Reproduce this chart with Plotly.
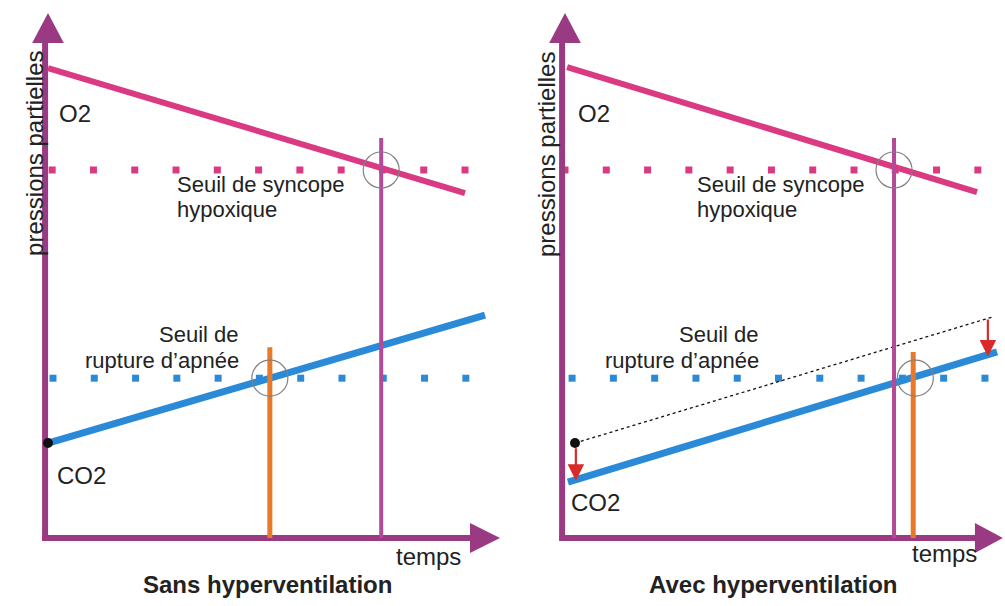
import plotly.graph_objects as go

# ---- data (abstract units: time, partial pressure) ----
panels = ["Sans hyperventilation", "Avec hyperventilation"]
o2_t = [[0.0, 10.0], [0.05, 9.88]]
o2_p = [[10.0, 7.34], [10.02, 7.36]]
o2_threshold = 7.83
co2_threshold = 3.40
co2_t = [[0.0, 10.48], [0.07, 10.36]]
co2_p = [[2.02, 4.74], [1.19, 3.96]]
co2_ref_t = [0.24, 10.24]          # CO2 without hyperventilation (dotted, right panel)
co2_ref_p = [2.02, 4.70]
syncope_t = [7.99, 7.89]
rupture_t = [5.32, 8.35]
o2_dots_t = [[0.1 + 0.99 * k for k in range(11)], [0.0 + 0.99 * k for k in range(11)]]
co2_dots_t = [[0.12 + 0.99 * k for k in range(11)], [0.17 + 0.99 * k for k in range(11)]]

AXIS = "#9a3a82"
PINK = "#d93a82"
VIOLET = "#b34a98"
BLUE = "#2b8ad8"
ORANGE = "#e8792a"
RED = "#d82a2a"
FONT = "Liberation Sans, Arial, sans-serif"

fig = go.Figure()
xr = [[-1.151, 10.887], [-1.511, 10.551]]
yr = [-1.447, 11.447]
xend = [10.12, 9.83]
xtip = [10.84, 10.5]

# text positions per panel (time, pressure)
txt = {
    "O2": [(0.22, 9.04), (0.26, 9.04)],
    "s1": [(3.05, 7.53), (3.12, 7.53)],
    "s2": [(3.05, 6.98), (3.12, 6.98)],
    "r1": [(4.63, 4.32), (4.70, 4.32)],
    "r2": [(4.63, 3.77), (4.70, 3.77)],
    "CO2": [(0.17, 1.32), (0.10, 0.745)],
    "temps": [(9.12, -0.40), (9.11, -0.34)],
    "title": [(5.26, -0.98), (5.01, -0.98)],
    "ylab": [(-0.34, 8.19), (-0.43, 8.15)],
}

for i in range(2):
    xa = "x" if i == 0 else "x2"
    ya = "y" if i == 0 else "y2"
    def add(**kw):
        fig.add_trace(go.Scatter(xaxis=xa, yaxis=ya, showlegend=False, hoverinfo="skip", **kw))
    # threshold dotted lines
    add(x=o2_dots_t[i], y=[o2_threshold] * 11, mode="markers",
        marker=dict(symbol="square", size=7, color=PINK))
    add(x=co2_dots_t[i], y=[co2_threshold] * 11, mode="markers",
        marker=dict(symbol="square", size=7, color=BLUE))
    # axes
    add(x=[-0.07, -0.07], y=[-0.06, 10.6], mode="lines", line=dict(color=AXIS, width=6))
    add(x=[-0.38, 0.0, 0.38, -0.38], y=[10.53, 11.17, 10.53, 10.53], mode="lines",
        fill="toself", fillcolor=AXIS, line=dict(color=AXIS, width=0))
    add(x=[-0.14, xend[i] + 0.05], y=[0, 0], mode="lines", line=dict(color=AXIS, width=6))
    add(x=[xend[i], xtip[i], xend[i], xend[i]], y=[0.32, 0, -0.32, 0.32], mode="lines",
        fill="toself", fillcolor=AXIS, line=dict(color=AXIS, width=0))
    # O2
    add(x=o2_t[i], y=o2_p[i], mode="lines", line=dict(color=PINK, width=6))
    # CO2 reference (right panel)
    if i == 1:
        add(x=co2_ref_t, y=co2_ref_p, mode="lines", line=dict(color="#111111", width=1.3, dash="dot"))
    # CO2
    add(x=co2_t[i], y=co2_p[i], mode="lines", line=dict(color=BLUE, width=7))
    # syncope vertical
    add(x=[syncope_t[i]] * 2, y=[0, 8.51], mode="lines", line=dict(color=VIOLET, width=4))
    # rupture vertical
    add(x=[rupture_t[i]] * 2, y=[0, 4.06 if i == 0 else 3.96], mode="lines",
        line=dict(color=ORANGE, width=5))
    # circles at intersections
    add(x=[syncope_t[i], rupture_t[i] + (0.05 if i == 1 else 0)], y=[o2_threshold, co2_threshold],
        mode="markers", marker=dict(symbol="circle-open", size=36, color="#808080",
                                    line=dict(width=1.2, color="#808080")))
    # black dot at CO2 start
    add(x=[co2_ref_t[0] if i == 1 else 0.0], y=[2.02], mode="markers",
        marker=dict(symbol="circle", size=10, color="#111111"))

    ann = dict(xref=xa, yref=ya, showarrow=False, yanchor="middle")
    def T(key, text, size=24, **kw):
        x, y = txt[key][i]
        fig.add_annotation(x=x, y=y, text=text,
                           font=dict(family=FONT, size=size, color="#222222"), **ann, **kw)
    T("O2", "O2", xanchor="left")
    T("s1", "Seuil de syncope", size=22, xanchor="left")
    T("s2", "hypoxique", size=22, xanchor="left")
    T("r1", "Seuil de", size=22, xanchor="right")
    T("r2", "rupture d’apnée", size=22, xanchor="right")
    T("CO2", "CO2", xanchor="left")
    T("temps", "temps", xanchor="center")
    T("ylab", "pressions partielles", xanchor="center", textangle=-90)
    T("title", "<b>" + panels[i] + "</b>", xanchor="center")

    if i == 1:
        for (tx, p0, p1) in [(0.26, 1.94, 1.22), (10.14, 4.68, 3.86)]:
            fig.add_annotation(x=tx, y=p1, ax=tx, ay=p0, xref=xa, yref=ya, axref=xa, ayref=ya,
                               showarrow=True, arrowhead=2, arrowsize=1.5, arrowwidth=2.2,
                               arrowcolor=RED, text="")

fig.update_layout(
    width=1005, height=606, margin=dict(l=0, r=0, t=0, b=0),
    paper_bgcolor="white", plot_bgcolor="white",
    xaxis=dict(domain=[0, 502 / 1005], range=xr[0], visible=False),
    yaxis=dict(domain=[0, 1], range=yr, visible=False),
    xaxis2=dict(domain=[502 / 1005, 1], range=xr[1], visible=False),
    yaxis2=dict(domain=[0, 1], range=yr, visible=False, anchor="x2"),
)
fig.write_html("out.html", config={"displayModeBar": False},
               post_script="document.body.style.margin='0';")
